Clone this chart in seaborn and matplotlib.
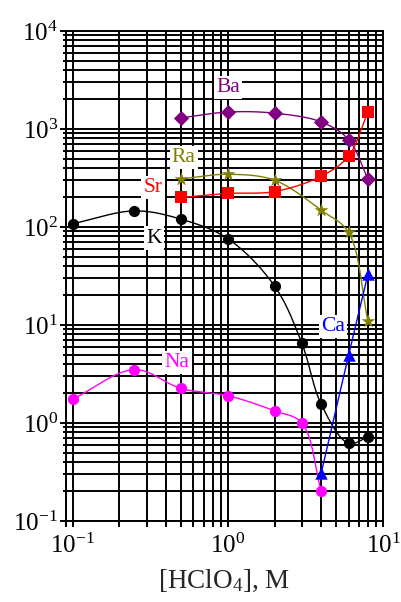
import numpy as np
import pandas as pd
import matplotlib
matplotlib.use("Agg")
import matplotlib.pyplot as plt
import matplotlib.ticker as mticker
import seaborn as sns

# Distribution data versus HClO4 concentration (M)
conc_k = [0.1, 0.25, 0.5, 1, 2, 3, 4, 6, 8]
k_vals = [108, 146, 120, 76, 25, 6.5, 1.55, 0.62, 0.72]
conc_na = [0.1, 0.25, 0.5, 1, 2, 3, 4]
na_vals = [1.75, 3.5, 2.25, 1.9, 1.33, 1.0, 0.2]
conc_heavy = [0.5, 1, 2, 4, 6, 8]
ba_vals = [1300, 1490, 1450, 1180, 780, 310]
ra_vals = [310, 345, 300, 148, 88, 11]
sr_vals = [200, 220, 230, 330, 530, 1490]
conc_ca = [4, 6, 8]
ca_vals = [0.31, 4.9, 33]

ions = ["Ba", "Ra", "Sr", "K", "Na", "Ca"]
series = {
    "Ba": (conc_heavy, ba_vals),
    "Ra": (conc_heavy, ra_vals),
    "Sr": (conc_heavy, sr_vals),
    "K": (conc_k, k_vals),
    "Na": (conc_na, na_vals),
    "Ca": (conc_ca, ca_vals),
}

colors = {"Ba": "#800080", "Ra": "#808000", "Sr": "#ff0000",
          "K": "#000000", "Na": "#ff00ff", "Ca": "#0000ff"}
markers = {"Ba": "D", "Ra": "*", "Sr": "s", "K": "o", "Na": "o", "Ca": "^"}
msizes = {"Ba": 60, "Ra": 110, "Sr": 65, "K": 65, "Na": 65, "Ca": 80}
label_xy = {"Ba": (1.0, 2630), "Ra": (0.52, 508), "Sr": (0.33, 254),
            "K": (0.335, 77), "Na": (0.47, 4.16), "Ca": (4.78, 9.7)}

sns.set_style("ticks")
plt.rcParams["font.family"] = ["Liberation Serif", "DejaVu Serif"]
plt.rcParams["mathtext.fontset"] = "custom"
plt.rcParams["mathtext.rm"] = "Liberation Serif"
plt.rcParams["mathtext.it"] = "Liberation Serif:italic"
plt.rcParams["mathtext.bf"] = "Liberation Serif:bold"

fig = plt.figure(figsize=(4.02, 6.02), dpi=100)
ax = fig.add_axes([65.6 / 402, 81 / 602, 317.4 / 402, 490 / 602])
ax.set_xscale("log")
ax.set_yscale("log")
ax.set_xlim(0.09, 10)
ax.set_ylim(0.1, 1e4)


def smooth_path(x, y, n=40, alpha=0.5):
    """Centripetal Catmull-Rom curve through the points, built in display space."""
    pts = ax.transData.transform(np.column_stack([x, y]))
    ext = np.vstack([2 * pts[0] - pts[1], pts, 2 * pts[-1] - pts[-2]])
    out = []
    for i in range(1, len(ext) - 2):
        p0, p1, p2, p3 = ext[i - 1], ext[i], ext[i + 1], ext[i + 2]
        t0 = 0.0
        t1 = t0 + np.linalg.norm(p1 - p0) ** alpha
        t2 = t1 + np.linalg.norm(p2 - p1) ** alpha
        t3 = t2 + np.linalg.norm(p3 - p2) ** alpha
        t = np.linspace(t1, t2, n, endpoint=(i == len(ext) - 3))[:, None]
        a1 = (t1 - t) / (t1 - t0) * p0 + (t - t0) / (t1 - t0) * p1
        a2 = (t2 - t) / (t2 - t1) * p1 + (t - t1) / (t2 - t1) * p2
        a3 = (t3 - t) / (t3 - t2) * p2 + (t - t2) / (t3 - t2) * p3
        b1 = (t2 - t) / (t2 - t0) * a1 + (t - t0) / (t2 - t0) * a2
        b2 = (t3 - t) / (t3 - t1) * a2 + (t - t1) / (t3 - t1) * a3
        out.append((t2 - t) / (t2 - t1) * b1 + (t - t1) / (t2 - t1) * b2)
    curve = ax.transData.inverted().transform(np.vstack(out))
    return curve[:, 0], curve[:, 1]


points = pd.concat(
    [pd.DataFrame({"ion": ion, "c": series[ion][0], "D": series[ion][1]}) for ion in ions],
    ignore_index=True)
curves = []
for ion in ions:
    cx, cy = smooth_path(np.array(series[ion][0], float), np.array(series[ion][1], float))
    curves.append(pd.DataFrame({"ion": ion, "c": cx, "D": cy}))
curves = pd.concat(curves, ignore_index=True)

ax.set_axisbelow(True)
ax.grid(True, which="both", color="black", linewidth=1.4)
ax.xaxis.set_major_locator(mticker.LogLocator(base=10, numticks=10))
ax.xaxis.set_minor_locator(mticker.LogLocator(base=10, subs=np.arange(2, 10), numticks=20))
ax.yaxis.set_major_locator(mticker.LogLocator(base=10, numticks=10))
ax.yaxis.set_minor_locator(mticker.LogLocator(base=10, subs=np.arange(2, 10), numticks=20))
ax.xaxis.set_minor_formatter(mticker.NullFormatter())
ax.yaxis.set_minor_formatter(mticker.NullFormatter())

for ion in ions:
    sub = curves[curves["ion"] == ion]
    sns.lineplot(data=sub, x="c", y="D", sort=False, estimator=None, color=colors[ion],
                 linewidth=1.0, ax=ax, legend=False, zorder=2)
for ion in ions:
    sub = points[points["ion"] == ion]
    sns.scatterplot(data=sub, x="c", y="D", color=colors[ion], marker=markers[ion],
                    s=msizes[ion], linewidth=0, ax=ax, legend=False, zorder=3)

for ion in ions:
    ax.text(*label_xy[ion], ion, color=colors[ion], fontsize=15.5, ha="center", va="center",
            zorder=1.5, bbox=dict(facecolor="white", edgecolor="none", pad=1.5))

ax.set_xlim(0.09, 10)
ax.set_ylim(0.1, 1e4)
ax.tick_params(axis="both", which="major", labelsize=18, length=4.5, width=1.4,
               color="black", labelcolor="black")
ax.tick_params(axis="x", which="major", pad=5)
ax.tick_params(axis="y", which="major", pad=1)
ax.tick_params(axis="x", which="minor", length=4.5, width=1.4, color="black")
ax.tick_params(axis="y", which="minor", length=2.2, width=1.4, color="black")
for sp in ax.spines.values():
    sp.set_color("black")
    sp.set_linewidth(1.4)

ax.set_xlabel("[HClO$_4$], M", fontsize=19.5, labelpad=7)
ax.set_ylabel("")

fig.savefig("out.png", dpi=100)
